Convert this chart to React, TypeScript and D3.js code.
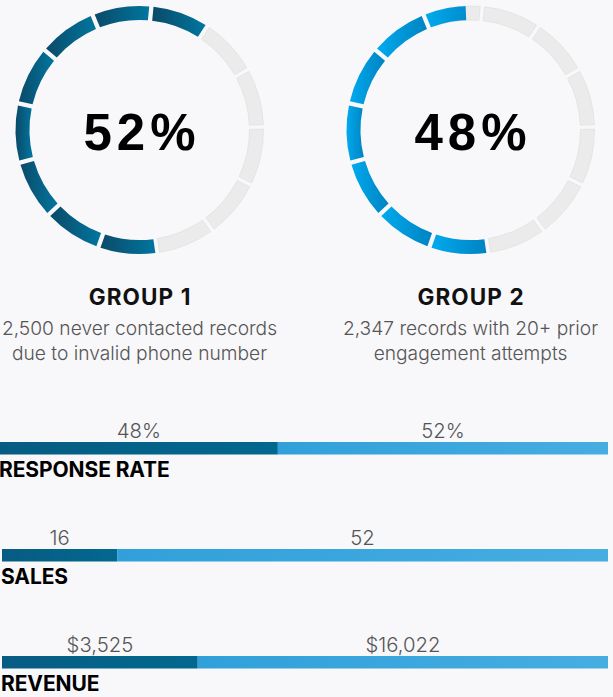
import React from "react";
import * as d3 from "d3";

// ---- data ----
const groups = ["GROUP 1", "GROUP 2"];
const groupPercents = [52, 48];
const ringFilledSegments = [8, 6.72];
const groupDescriptions = [
  ["2,500 never contacted records", "due to invalid phone number"],
  ["2,347 records with 20+ prior", "engagement attempts"],
];
const metrics = ["RESPONSE RATE", "SALES", "REVENUE"];
const group1Labels = ["48%", "16", "$3,525"];
const group2Labels = ["52%", "52", "$16,022"];
const group1Share = [0.457, 0.19, 0.323];

// ---- layout ----
const W = 613;
const H = 697;
const SEGMENTS = 13;
const SEG_OFFSET_DEG = 5.5;
const FILL_START_SEG = 6;
const ringCx = [139.5, 470.5];
const ringCy = 130;
const rOuter = 124;
const rInner = 110;
const rowTop0 = 442;
const rowGap = 107;
const barH = 12.5;
const rowX0 = [0, 2, 2];
const barX1 = 608;

const deg = Math.PI / 180;

export default function App() {
  const step = 360 / SEGMENTS;
  const segArc = d3
    .arc<any>()
    .innerRadius(rInner)
    .outerRadius(rOuter)
    .padRadius(100)
    .padAngle(0.043);
  const wedge = d3.arc<any>().innerRadius(0).outerRadius(rOuter + 6);

  const segIdx = d3.range(SEGMENTS);

  return (
    <svg
      width={W}
      height={H}
      style={{ position: "absolute", left: 0, top: 0, display: "block" }}
    >
      <defs>
        <linearGradient id="g1">
          <stop offset="0" stopColor="#0b4a68" />
          <stop offset="1" stopColor="#00769f" />
        </linearGradient>
        <linearGradient id="g2">
          <stop offset="0" stopColor="#00aaee" />
          <stop offset="1" stopColor="#0083c2" />
        </linearGradient>
        <linearGradient id="barDark">
          <stop offset="0" stopColor="#075c82" />
          <stop offset="1" stopColor="#02688f" />
        </linearGradient>
        <linearGradient id="barLight">
          <stop offset="0" stopColor="#31a0da" />
          <stop offset="1" stopColor="#46ade1" />
        </linearGradient>
        {groups.map((g, gi) => {
          const full = Math.floor(ringFilledSegments[gi]);
          const frac = ringFilledSegments[gi] - full;
          const segStart = SEG_OFFSET_DEG + (FILL_START_SEG + full) * step;
          return (
            <clipPath id={`partial${gi}`} key={g}>
              <path
                d={
                  wedge({
                    startAngle: segStart * deg,
                    endAngle: (segStart + frac * step) * deg,
                  }) as string
                }
              />
            </clipPath>
          );
        })}
      </defs>
      <rect x={0} y={0} width={W} height={H} fill="#f8f7fa" />

      {groups.map((g, gi) => {
        const filled = ringFilledSegments[gi];
        const full = Math.floor(filled);
        return (
          <g key={g} transform={`translate(${ringCx[gi]},${ringCy})`}>
            {segIdx.map((i) => {
              const a0 = SEG_OFFSET_DEG + i * step;
              const rel = (i - FILL_START_SEG + SEGMENTS) % SEGMENTS;
              const isFull = rel < full;
              const isPartial = rel === full && filled > full;
              const d = segArc({
                startAngle: a0 * deg,
                endAngle: (a0 + step) * deg,
              }) as string;
              return (
                <g key={i}>
                  {!isFull && (
                    <path d={d} fill="#ebebeb" stroke="#e1e1e1" strokeWidth={0.8} />
                  )}
                  {isFull && <path d={d} fill={`url(#g${gi + 1})`} />}
                  {isPartial && (
                    <path
                      d={d}
                      fill={`url(#g${gi + 1})`}
                      clipPath={`url(#partial${gi})`}
                    />
                  )}
                </g>
              );
            })}
            <text
              x={0}
              y={20}
              textAnchor="middle"
              fontFamily="'Liberation Sans', Arial, sans-serif"
              fontWeight={700}
              fontSize={51}
              letterSpacing={5}
              fill="#000"
              dx={2.5}
            >
              {`${groupPercents[gi]}%`}
            </text>
            <text
              x={0}
              y={175}
              textAnchor="middle"
              fontFamily="Inter, sans-serif"
              fontWeight={700}
              fontSize={22.5}
              letterSpacing={1.1}
              dx={0.55}
              fill="#111"
            >
              {g}
            </text>
            {groupDescriptions[gi].map((line, li) => (
              <text
                key={li}
                x={0}
                y={205 + li * 25}
                textAnchor="middle"
                fontFamily="Inter, sans-serif"
                fontWeight={300}
                fontSize={19.2}
                fill="#555"
              >
                {line}
              </text>
            ))}
          </g>
        );
      })}

      {metrics.map((m, ri) => {
        const top = rowTop0 + ri * rowGap;
        const x = d3.scaleLinear().domain([0, 1]).range([rowX0[ri], barX1]);
        const split = x(group1Share[ri]);
        return (
          <g key={m}>
            <rect
              x={x(0)}
              y={top}
              width={split - x(0)}
              height={barH}
              fill="url(#barDark)"
            />
            <rect
              x={split}
              y={top}
              width={x(1) - split}
              height={barH}
              fill="url(#barLight)"
            />
            <text
              x={(x(0) + split) / 2}
              y={top - 4}
              textAnchor="middle"
              fontFamily="Inter, sans-serif"
              fontWeight={300}
              fontSize={20.3}
              fill="#555"
            >
              {group1Labels[ri]}
            </text>
            <text
              x={(split + x(1)) / 2}
              y={top - 4}
              textAnchor="middle"
              fontFamily="Inter, sans-serif"
              fontWeight={300}
              fontSize={20.3}
              fill="#555"
            >
              {group2Labels[ri]}
            </text>
            <text
              x={x(0) - 1}
              y={top + barH + 22.5}
              fontFamily="Inter, sans-serif"
              fontWeight={700}
              fontSize={21}
              letterSpacing={-0.1}
              fill="#000"
            >
              {m}
            </text>
          </g>
        );
      })}
    </svg>
  );
}
